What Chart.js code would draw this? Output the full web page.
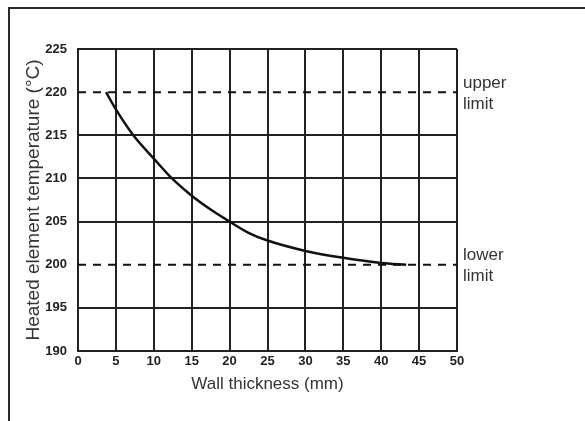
<!DOCTYPE html>
<html>
<head>
<meta charset="utf-8">
<script src="https://cdn.jsdelivr.net/npm/chart.js@4"></script>
<style>
  body { margin: 0; background: #fff; }
  #wrap { position: relative; width: 585px; height: 421px; overflow: hidden; }
  #frame { position: absolute; left: 8px; top: 7px; width: 600px; height: 430px;
           border-left: 2px solid #2a2a2a; border-top: 2px solid #2a2a2a; }
  canvas { position: absolute; left: 0; top: 0; }
</style>
</head>
<body>
<div id="wrap">
  <div id="frame"></div>
  <canvas id="chart" width="585" height="421"></canvas>
</div>
<script>
// wall thickness (mm) vs heated element temperature (°C)
const thickness = [3.7, 5, 7.3, 10, 12.4, 15, 17.5, 20, 22.5, 25, 30, 35, 40, 43.3];
const temperature = [220, 218.0, 215, 212.3, 210, 208.0, 206.4, 205, 203.7, 202.8, 201.6, 200.8, 200.2, 200];

const upperLimit = 220;
const lowerLimit = 200;
const limitLabels = [['upper', 'limit'], ['lower', 'limit']];

const xTicks = [0, 5, 10, 15, 20, 25, 30, 35, 40, 45, 50];
const yTicks = [190, 195, 200, 205, 210, 215, 220, 225];

const ink = '#222';
const tickFont = { family: "'Liberation Sans Narrow', 'Liberation Sans', Arial, sans-serif", size: 13, weight: 'bold' };
const titleFont = { family: "'Liberation Sans', Arial, sans-serif", size: 17 };

// dashed limit lines span the whole plot width
const limitLine = (y) => [{ x: xTicks[0], y: y }, { x: xTicks[xTicks.length - 1], y: y }];

// writes "upper limit" / "lower limit" to the right of the plot
const limitText = {
    id: 'limitText',
    afterDraw(chart) {
        const { ctx, chartArea, scales } = chart;
        ctx.save();
        ctx.fillStyle = '#333';
        ctx.font = "17px 'Liberation Sans', Arial, sans-serif";
        ctx.textBaseline = 'middle';
        [upperLimit, lowerLimit].forEach((v, i) => {
            const y = scales.y.getPixelForValue(v);
            ctx.fillText(limitLabels[i][0], chartArea.right + 6, y - 9);
            ctx.fillText(limitLabels[i][1], chartArea.right + 6, y + 12);
        });
        ctx.restore();
    }
};

new Chart(document.getElementById('chart'), {
    type: 'line',
    data: {
        datasets: [
            {
                data: thickness.map((x, i) => ({ x: x, y: temperature[i] })),
                borderColor: '#111',
                borderWidth: 2.5,
                pointRadius: 0,
                cubicInterpolationMode: 'monotone',
                fill: false,
            },
            {
                data: limitLine(upperLimit),
                borderColor: '#111',
                borderWidth: 2,
                borderDash: [8, 7],
                pointRadius: 0,
            },
            {
                data: limitLine(lowerLimit),
                borderColor: '#111',
                borderWidth: 2,
                borderDash: [8, 7],
                pointRadius: 0,
            }
        ]
    },
    options: {
        responsive: false,
        animation: false,
        layout: { padding: { top: 49, right: 128, left: 0, bottom: 0 } },
        plugins: { legend: { display: false }, tooltip: { enabled: false } },
        scales: {
            x: {
                type: 'linear',
                min: 0,
                max: 50,
                afterBuildTicks: (s) => { s.ticks = xTicks.map(v => ({ value: v })); },
                afterFit: (s) => { s.height = 70; },
                grid: { color: ink, lineWidth: 2, drawTicks: false },
                border: { color: ink, width: 2 },
                ticks: { color: ink, font: tickFont, padding: 3, maxRotation: 0 },
                title: { display: true, text: 'Wall thickness (mm)', color: '#333', font: titleFont, padding: { top: 0, bottom: 26 } }
            },
            y: {
                min: 190,
                max: 225,
                afterBuildTicks: (s) => { s.ticks = yTicks.map(v => ({ value: v })); },
                afterFit: (s) => { s.width = 78; },
                grid: {
                    // limit levels get a dashed line instead of a solid one
                    color: (c) => (c.tick && (c.tick.value === upperLimit || c.tick.value === lowerLimit)) ? 'rgba(0,0,0,0)' : ink,
                    lineWidth: 2,
                    drawTicks: false
                },
                border: { color: ink, width: 2 },
                ticks: { color: ink, font: tickFont, padding: 11 },
                title: { display: true, text: 'Heated element temperature (°C)', color: '#333', font: { family: titleFont.family, size: 19 }, padding: { top: 22, bottom: 0 } }
            }
        }
    },
    plugins: [limitText]
});
</script>
</body>
</html>
